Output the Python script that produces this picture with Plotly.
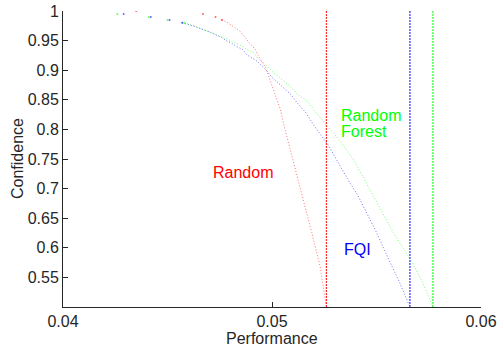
import plotly.graph_objects as go

# ---- data ----
random_x = [0.0435, 0.0467, 0.0473, 0.0476, 0.0479, 0.0481, 0.0483, 0.0485, 0.0486, 0.0487, 0.0488, 0.0489,
            0.0492, 0.0494, 0.0497, 0.0499, 0.0501, 0.0504, 0.0506, 0.0510, 0.0513, 0.0516, 0.0519, 0.0523, 0.0526]
random_y = [1.0, 0.995, 0.99, 0.985, 0.98, 0.975, 0.97, 0.965, 0.96, 0.955, 0.95, 0.947,
            0.935, 0.921, 0.904, 0.884, 0.862, 0.834, 0.803, 0.749, 0.71, 0.668, 0.626, 0.569, 0.5]

fqi_x = [0.0429, 0.0442, 0.0451, 0.0457, 0.0462, 0.0470, 0.0473, 0.0476, 0.0478, 0.0481, 0.0483, 0.0486,
         0.0488, 0.0493, 0.0497, 0.0500, 0.0505, 0.0509, 0.0512, 0.0516, 0.0520, 0.0527, 0.0531, 0.0536,
         0.0541, 0.0546, 0.0550, 0.0556, 0.0561, 0.0566]
fqi_y = [0.995, 0.99, 0.985, 0.98, 0.975, 0.965, 0.96, 0.955, 0.95, 0.945, 0.94, 0.935,
         0.926, 0.915, 0.901, 0.888, 0.872, 0.859, 0.845, 0.829, 0.807, 0.773, 0.748, 0.717,
         0.689, 0.655, 0.626, 0.579, 0.542, 0.5]

rf_x = [0.0426, 0.0441, 0.0450, 0.0458, 0.0463, 0.0466, 0.0470, 0.0474, 0.0477, 0.0480, 0.0483, 0.0486,
        0.0488, 0.0491, 0.0493, 0.0497, 0.0500, 0.0505, 0.0509, 0.0512, 0.0517, 0.0521, 0.0526, 0.0532,
        0.0539, 0.0545, 0.0550, 0.0558, 0.0567, 0.0572, 0.0577]
rf_y = [0.995, 0.99, 0.985, 0.98, 0.975, 0.97, 0.965, 0.96, 0.955, 0.95, 0.945, 0.94,
        0.935, 0.93, 0.921, 0.909, 0.898, 0.884, 0.872, 0.860, 0.847, 0.829, 0.808, 0.783,
        0.749, 0.710, 0.678, 0.626, 0.576, 0.542, 0.5]

# vertical reference lines (performance values)
vline_random = 0.0526
vline_fqi = 0.0566
vline_rf = 0.0577

x_ticks = [0.04, 0.05, 0.06]
x_ticklabels = ["0.04", "0.05", "0.06"]
y_ticks = [0.55, 0.6, 0.65, 0.7, 0.75, 0.8, 0.85, 0.9, 0.95, 1.0]
y_ticklabels = ["0.55", "0.6", "0.65", "0.7", "0.75", "0.8", "0.85", "0.9", "0.95", "1"]

RED = "#ff0000"
BLUE = "#0000ff"
GREEN = "#00ff00"
FONT = "Liberation Sans, Arial, sans-serif"
TXT = "#262626"

fig = go.Figure()

SPARSE = 4  # leading points that appear as isolated dots


def add_series(xs, ys, color):
    fig.add_trace(go.Scatter(x=xs[:SPARSE], y=ys[:SPARSE], mode="markers",
                             marker=dict(color=color, size=2, line=dict(width=0)),
                             opacity=0.6, hoverinfo="skip", showlegend=False))
    fig.add_trace(go.Scatter(x=xs[SPARSE - 1:], y=ys[SPARSE - 1:], mode="lines",
                             line=dict(color=color, width=1, dash="1px,2px"),
                             opacity=0.55, hoverinfo="skip", showlegend=False))


add_series(rf_x, rf_y, GREEN)
add_series(fqi_x, fqi_y, BLUE)
add_series(random_x, random_y, RED)

for v, c in [(vline_random, RED), (vline_fqi, BLUE), (vline_rf, GREEN)]:
    fig.add_trace(go.Scatter(x=[v, v], y=[0.5, 1.0], mode="lines",
                             line=dict(color=c, width=1, dash="2px,1px"),
                             hoverinfo="skip", showlegend=False))

fig.add_annotation(x=0.0486, y=0.727, text="Random", showarrow=False,
                   font=dict(color=RED, size=16, family=FONT), xanchor="center", yanchor="middle")
fig.add_annotation(x=0.0532, y=0.824, text="Random", showarrow=False,
                   font=dict(color=GREEN, size=16, family=FONT), xanchor="left", yanchor="middle")
fig.add_annotation(x=0.0532, y=0.797, text="Forest", showarrow=False,
                   font=dict(color=GREEN, size=16, family=FONT), xanchor="left", yanchor="middle")
fig.add_annotation(x=0.05335, y=0.5975, text="FQI", showarrow=False,
                   font=dict(color=BLUE, size=16, family=FONT), xanchor="left", yanchor="middle")

# axis titles
fig.add_annotation(xref="paper", yref="paper", x=0.5, y=-0.106, text="Performance", showarrow=False,
                   font=dict(color=TXT, size=16, family=FONT), xanchor="center", yanchor="middle")
fig.add_annotation(xref="paper", yref="paper", x=-0.110, y=0.5, text="Confidence", showarrow=False,
                   textangle=-90, font=dict(color=TXT, size=16, family=FONT),
                   xanchor="center", yanchor="middle")

fig.update_layout(
    width=497, height=349,
    margin=dict(l=63, r=16, t=11, b=42, autoexpand=False),
    paper_bgcolor="white", plot_bgcolor="white",
    font=dict(family=FONT, size=16, color=TXT),
    showlegend=False,
    xaxis=dict(range=[0.04, 0.06], tickvals=x_ticks, ticktext=x_ticklabels, automargin=False,
               ticks="inside", ticklen=5, tickcolor=TXT, showline=True, linecolor=TXT, linewidth=1,
               showgrid=False, zeroline=False, mirror=False),
    yaxis=dict(range=[0.5, 1.0], tickvals=y_ticks, ticktext=y_ticklabels, automargin=False,
               ticks="inside", ticklen=5, tickcolor=TXT, showline=True, linecolor=TXT, linewidth=1,
               showgrid=False, zeroline=False, mirror=False),
)

fig.write_html("out.html", config={"displayModeBar": False},
               post_script="document.body.style.margin='0';document.body.style.overflow='hidden';")
